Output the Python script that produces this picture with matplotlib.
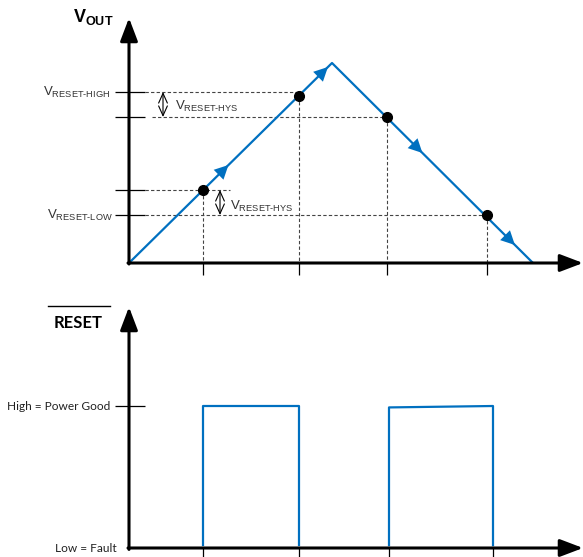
import numpy as np
import matplotlib.pyplot as plt

plt.rcParams['font.family'] = ['Liberation Sans', 'DejaVu Sans']
plt.rcParams['mathtext.fontset'] = 'custom'
plt.rcParams['mathtext.rm'] = 'Liberation Sans'
plt.rcParams['mathtext.bf'] = 'Liberation Sans:bold'

# --- VOUT ramp (arbitrary time / voltage units) ---
ramp_t = [0, 203, 404]
ramp_v = [0, 200, 0]

v_reset_high = 171
v_high_release = 146   # V_RESET-HIGH minus hysteresis
v_low_release = 73     # V_RESET-LOW plus hysteresis
v_reset_low = 48

# threshold crossings (dots)
cross_t = [74, 170, 258, 358]
cross_v = [73, 167, 146, 48]

# --- RESET output ---
reset_rise = [74, 260]
reset_fall = [170, 364]
reset_high_start = [1.0, 0.99]
reset_high_end = [1.0, 1.0]
reset_ticks = [74, 170, 260, 364]

blue = '#0070C0'
dash_col = '#444444'
txt_col = '#333333'

W, H = 583, 557
top_h = 290
fig = plt.figure(figsize=(W / 100, H / 100), dpi=100)

# ================= top panel =================
ax1 = fig.add_axes([0, (H - top_h) / H, 1, top_h / H])
ax1.set_xlim(-129, W - 129)
ax1.set_ylim(-(top_h - 263), 263)
ax1.axis('off')

axis_arrow = dict(arrowstyle='-|>,head_length=1.0,head_width=0.38',
                  mutation_scale=14, lw=2.2, color='k',
                  shrinkA=0, shrinkB=0)
ax1.annotate('', xy=(0, 245), xytext=(0, -1), arrowprops=axis_arrow,
             annotation_clip=False)
ax1.annotate('', xy=(W - 129, 0), xytext=(-1, 0), arrowprops=axis_arrow,
             annotation_clip=False)

levels = [v_reset_high, v_high_release, v_low_release, v_reset_low]
ax1.hlines(levels, -14, 16, color='k', lw=0.9)

dash = dict(color=dash_col, lw=0.8, linestyle=(0, (3, 2)))
ax1.plot([16, cross_t[1]], [v_reset_high] * 2, **dash)
ax1.plot([23, cross_t[2]], [v_high_release] * 2, **dash)
ax1.plot([16, 101], [v_low_release] * 2, **dash)
ax1.plot([16, cross_t[3]], [v_reset_low] * 2, **dash)
for t, v in zip(cross_t, cross_v):
    ax1.plot([t, t], [v, 0], **dash)
ax1.vlines(cross_t, -12, 0, color='k', lw=0.9)

ax1.plot(ramp_t, ramp_v, color=blue, lw=1.6, solid_capstyle='butt')

# direction arrows along the ramp
line_arrow = dict(arrowstyle='-|>,head_length=1.0,head_width=0.5',
                  mutation_scale=10, lw=0, color=blue,
                  shrinkA=0, shrinkB=0)
for seg, frac in [(0, 0.49), (0, 0.98), (1, 0.45), (1, 0.91)]:
    t0, t1 = ramp_t[seg], ramp_t[seg + 1]
    v0, v1 = ramp_v[seg], ramp_v[seg + 1]
    tip = (t0 + frac * (t1 - t0), v0 + frac * (v1 - v0))
    back = (t0 + (frac - 0.06) * (t1 - t0), v0 + (frac - 0.06) * (v1 - v0))
    ax1.annotate('', xy=tip, xytext=back, arrowprops=line_arrow)

ax1.plot(cross_t, cross_v, 'o', color='k', ms=7, zorder=5)

hys_arrow = dict(arrowstyle='<->,head_length=1.0,head_width=0.45',
                 mutation_scale=7, lw=0.8, color='k', shrinkA=0, shrinkB=0)
ax1.annotate('', xy=(34, v_reset_high), xytext=(34, v_high_release),
             arrowprops=hys_arrow)
ax1.annotate('', xy=(91, v_low_release), xytext=(91, v_reset_low),
             arrowprops=hys_arrow)

ax1.text(-36, 246, r'$\mathbf{V_{OUT}}$', fontsize=13, ha='center', va='center')
ax1.text(-19, 171, r'$\mathregular{V_{RESET\text{-}HIGH}}$', fontsize=9.5,
         ha='right', va='center', color=txt_col)
ax1.text(-16, 48, r'$\mathregular{V_{RESET\text{-}LOW}}$', fontsize=9.5,
         ha='right', va='center', color=txt_col)
ax1.text(46, 157, r'$\mathregular{V_{RESET\text{-}HYS}}$', fontsize=9.5,
         ha='left', va='center', color=txt_col)
ax1.text(101, 57, r'$\mathregular{V_{RESET\text{-}HYS}}$', fontsize=9.5,
         ha='left', va='center', color=txt_col)

# ================= bottom panel =================
scale = 142.0
ax2 = fig.add_axes([0, 0, 1, (H - top_h) / H])
ax2.set_xlim(-129, W - 129)
ybot = -(H - 548) / scale
ax2.set_ylim(ybot, (548 - top_h) / scale)
ax2.axis('off')

ax2.annotate('', xy=(0, (548 - 307) / scale), xytext=(0, -0.01),
             arrowprops=axis_arrow, annotation_clip=False)
ax2.annotate('', xy=(W - 129, 0), xytext=(-1, 0), arrowprops=axis_arrow,
             annotation_clip=False)
ax2.hlines(1.0, -14, 16, color='k', lw=0.9)
ax2.vlines(reset_ticks, ybot, 0, color='k', lw=0.9, clip_on=False)

for r, f, hs, he in zip(reset_rise, reset_fall, reset_high_start, reset_high_end):
    ax2.plot([r, r, f, f], [0.02, hs, he, 0.02], color=blue, lw=1.6)

ax2.plot([-81, -19], [1.704, 1.704], color='k', lw=1.0)
ax2.text(-51, 1.585, 'RESET', family=['Lato', 'DejaVu Sans'], fontweight='bold',
         fontsize=12, ha='center', va='center')
ax2.text(-19, 1.0, 'High = Power Good', family=['Lato', 'DejaVu Sans'],
         fontsize=8.6, ha='right', va='center', color='#222222')
ax2.text(-12, -0.005, 'Low = Fault', family=['Lato', 'DejaVu Sans'],
         fontsize=8.6, ha='right', va='center', color='#222222')

fig.savefig('out.png', dpi=100)
